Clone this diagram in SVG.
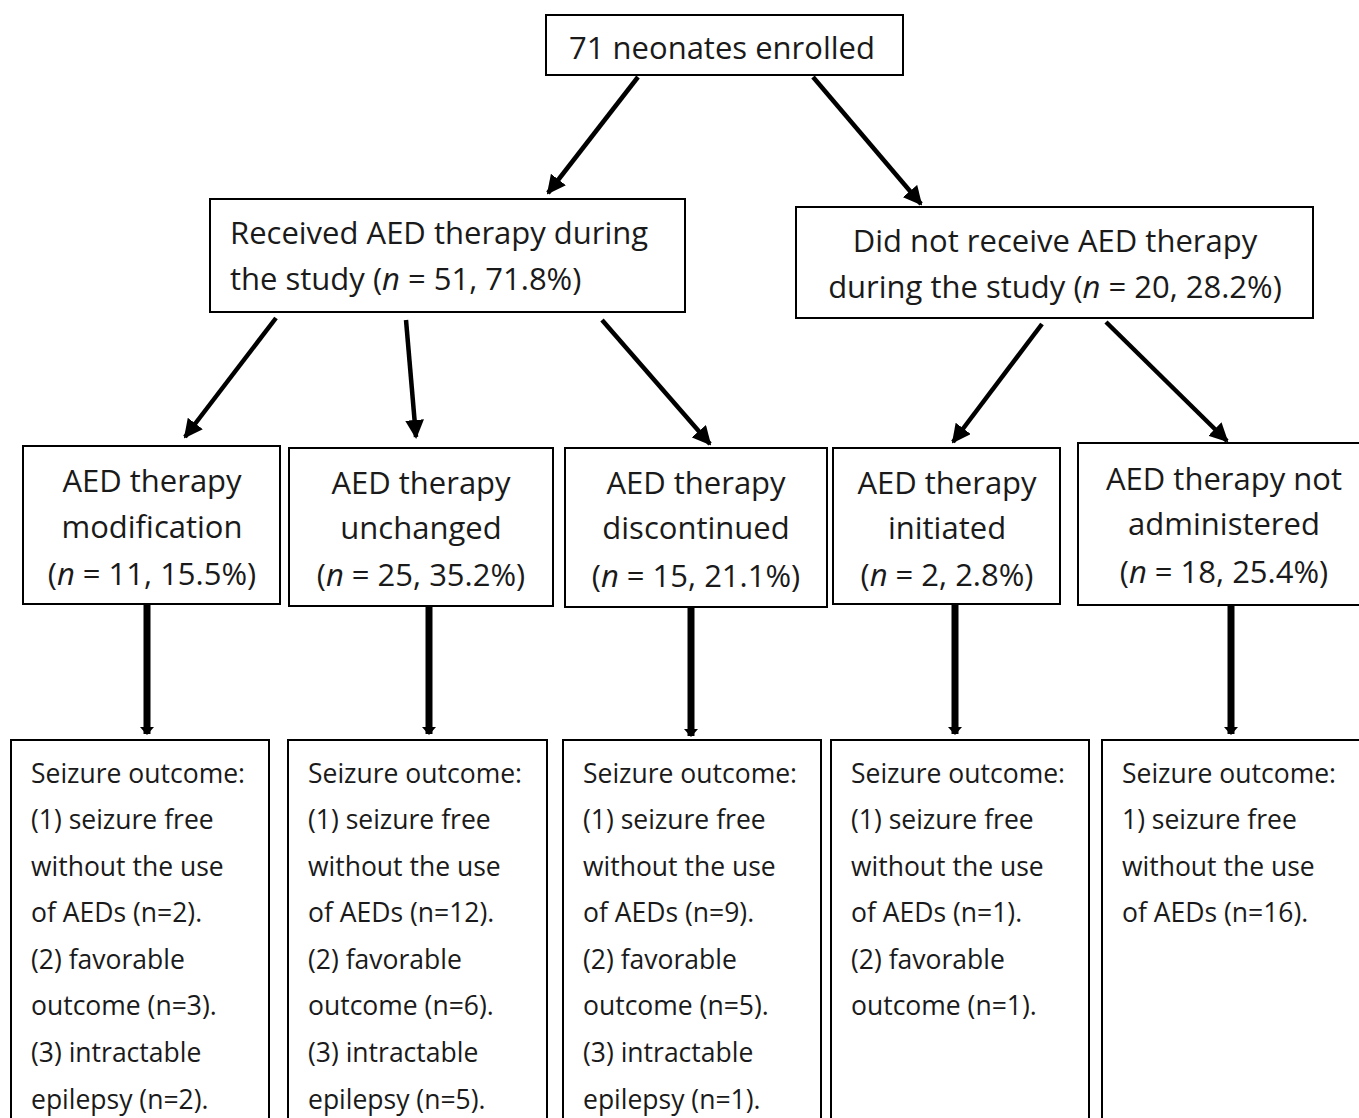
<svg xmlns="http://www.w3.org/2000/svg" width="1359" height="1118" viewBox="0 0 1359 1118">
<style>
.box{fill:#fff;stroke:#000;stroke-width:2}
text{font-family:"Open Sans","Liberation Sans",Arial,sans-serif;fill:#1a1a1a}
.big{font-size:31px}
.sm{font-size:26.5px}
.c{text-anchor:middle}
.d{stroke:#000;stroke-width:4.5;fill:none}
.v{stroke:#000;stroke-width:7;fill:none}
</style>
<defs>
<marker id="ah" viewBox="0 0 10 10" refX="9" refY="5" markerWidth="4.2" markerHeight="4.2" orient="auto" markerUnits="strokeWidth"><path d="M0,0 L10,5 L0,10 z" fill="#000"/></marker>
<marker id="av" viewBox="0 0 8 14" refX="7" refY="7" markerWidth="8" markerHeight="14" orient="auto" markerUnits="userSpaceOnUse"><path d="M0,0 L8,7 L0,14 z" fill="#000"/></marker>
</defs>
<rect width="1359" height="1118" fill="#fff"/>
<g id="connectors">
<line class="d" x1="638" y1="77" x2="548" y2="193" marker-end="url(#ah)"/>
<line class="d" x1="813" y1="77" x2="921" y2="204" marker-end="url(#ah)"/>
<line class="d" x1="276" y1="318" x2="185" y2="437" marker-end="url(#ah)"/>
<line class="d" x1="406" y1="320" x2="416" y2="437" marker-end="url(#ah)"/>
<line class="d" x1="602" y1="320" x2="710" y2="444" marker-end="url(#ah)"/>
<line class="d" x1="1042" y1="324" x2="953" y2="442" marker-end="url(#ah)"/>
<line class="d" x1="1106" y1="322" x2="1227" y2="441" marker-end="url(#ah)"/>
<line class="v" x1="147" y1="605" x2="147" y2="734" marker-end="url(#av)"/>
<line class="v" x1="429" y1="607" x2="429" y2="734" marker-end="url(#av)"/>
<line class="v" x1="691" y1="608" x2="691" y2="736" marker-end="url(#av)"/>
<line class="v" x1="955" y1="605" x2="955" y2="734" marker-end="url(#av)"/>
<line class="v" x1="1231" y1="606" x2="1231" y2="734" marker-end="url(#av)"/>
</g>
<g id="n-enrolled">
<rect class="box" x="546" y="15" width="357" height="60"/>
<text class="big c" x="722" y="59">71 neonates enrolled</text>
</g>
<g id="n-received">
<rect class="box" x="210" y="199" width="475" height="113"/>
<text class="big" x="230" y="244">Received AED therapy during</text>
<text class="big" x="230" y="290">the study (<tspan font-style="italic">n</tspan> = 51, 71.8%)</text>
</g>
<g id="n-notreceived">
<rect class="box" x="796" y="207" width="517" height="111"/>
<text class="big c" x="1055" y="252">Did not receive AED therapy</text>
<text class="big c" x="1055" y="298">during the study (<tspan font-style="italic">n</tspan> = 20, 28.2%)</text>
</g>
<g id="n-modification">
<rect class="box" x="23" y="446" width="257" height="158"/>
<text class="big c" x="152" y="492">AED therapy</text>
<text class="big c" x="152" y="538">modification</text>
<text class="big c" x="152" y="585">(<tspan font-style="italic">n</tspan> = 11, 15.5%)</text>
</g>
<g id="n-unchanged">
<rect class="box" x="289" y="448" width="264" height="158"/>
<text class="big c" x="421" y="494">AED therapy</text>
<text class="big c" x="421" y="539">unchanged</text>
<text class="big c" x="421" y="586">(<tspan font-style="italic">n</tspan> = 25, 35.2%)</text>
</g>
<g id="n-discontinued">
<rect class="box" x="565" y="448" width="262" height="159"/>
<text class="big c" x="696" y="494">AED therapy</text>
<text class="big c" x="696" y="539">discontinued</text>
<text class="big c" x="696" y="587">(<tspan font-style="italic">n</tspan> = 15, 21.1%)</text>
</g>
<g id="n-initiated">
<rect class="box" x="833" y="448" width="227" height="156"/>
<text class="big c" x="947" y="494">AED therapy</text>
<text class="big c" x="947" y="539">initiated</text>
<text class="big c" x="947" y="586">(<tspan font-style="italic">n</tspan> = 2, 2.8%)</text>
</g>
<g id="n-notadmin">
<rect class="box" x="1078" y="443" width="290" height="162"/>
<text class="big c" x="1224" y="490">AED therapy not</text>
<text class="big c" x="1224" y="535">administered</text>
<text class="big c" x="1224" y="583">(<tspan font-style="italic">n</tspan> = 18, 25.4%)</text>
</g>
<g id="o-modification">
<rect class="box" x="11" y="740" width="258" height="400"/>
<text class="sm" x="31" y="783">Seizure outcome:</text>
<text class="sm" x="31" y="829">(1) seizure free</text>
<text class="sm" x="31" y="876">without the use</text>
<text class="sm" x="31" y="922">of AEDs (n=2).</text>
<text class="sm" x="31" y="969">(2) favorable</text>
<text class="sm" x="31" y="1015">outcome (n=3).</text>
<text class="sm" x="31" y="1062">(3) intractable</text>
<text class="sm" x="31" y="1109">epilepsy (n=2).</text>
</g>
<g id="o-unchanged">
<rect class="box" x="288" y="740" width="259" height="400"/>
<text class="sm" x="308" y="783">Seizure outcome:</text>
<text class="sm" x="308" y="829">(1) seizure free</text>
<text class="sm" x="308" y="876">without the use</text>
<text class="sm" x="308" y="922">of AEDs (n=12).</text>
<text class="sm" x="308" y="969">(2) favorable</text>
<text class="sm" x="308" y="1015">outcome (n=6).</text>
<text class="sm" x="308" y="1062">(3) intractable</text>
<text class="sm" x="308" y="1109">epilepsy (n=5).</text>
</g>
<g id="o-discontinued">
<rect class="box" x="563" y="740" width="258" height="400"/>
<text class="sm" x="583" y="783">Seizure outcome:</text>
<text class="sm" x="583" y="829">(1) seizure free</text>
<text class="sm" x="583" y="876">without the use</text>
<text class="sm" x="583" y="922">of AEDs (n=9).</text>
<text class="sm" x="583" y="969">(2) favorable</text>
<text class="sm" x="583" y="1015">outcome (n=5).</text>
<text class="sm" x="583" y="1062">(3) intractable</text>
<text class="sm" x="583" y="1109">epilepsy (n=1).</text>
</g>
<g id="o-initiated">
<rect class="box" x="831" y="740" width="258" height="400"/>
<text class="sm" x="851" y="783">Seizure outcome:</text>
<text class="sm" x="851" y="829">(1) seizure free</text>
<text class="sm" x="851" y="876">without the use</text>
<text class="sm" x="851" y="922">of AEDs (n=1).</text>
<text class="sm" x="851" y="969">(2) favorable</text>
<text class="sm" x="851" y="1015">outcome (n=1).</text>
</g>
<g id="o-notadmin">
<rect class="box" x="1102" y="740" width="270" height="400"/>
<text class="sm" x="1122" y="783">Seizure outcome:</text>
<text class="sm" x="1122" y="829">1) seizure free</text>
<text class="sm" x="1122" y="876">without the use</text>
<text class="sm" x="1122" y="922">of AEDs (n=16).</text>
</g>
</svg>
